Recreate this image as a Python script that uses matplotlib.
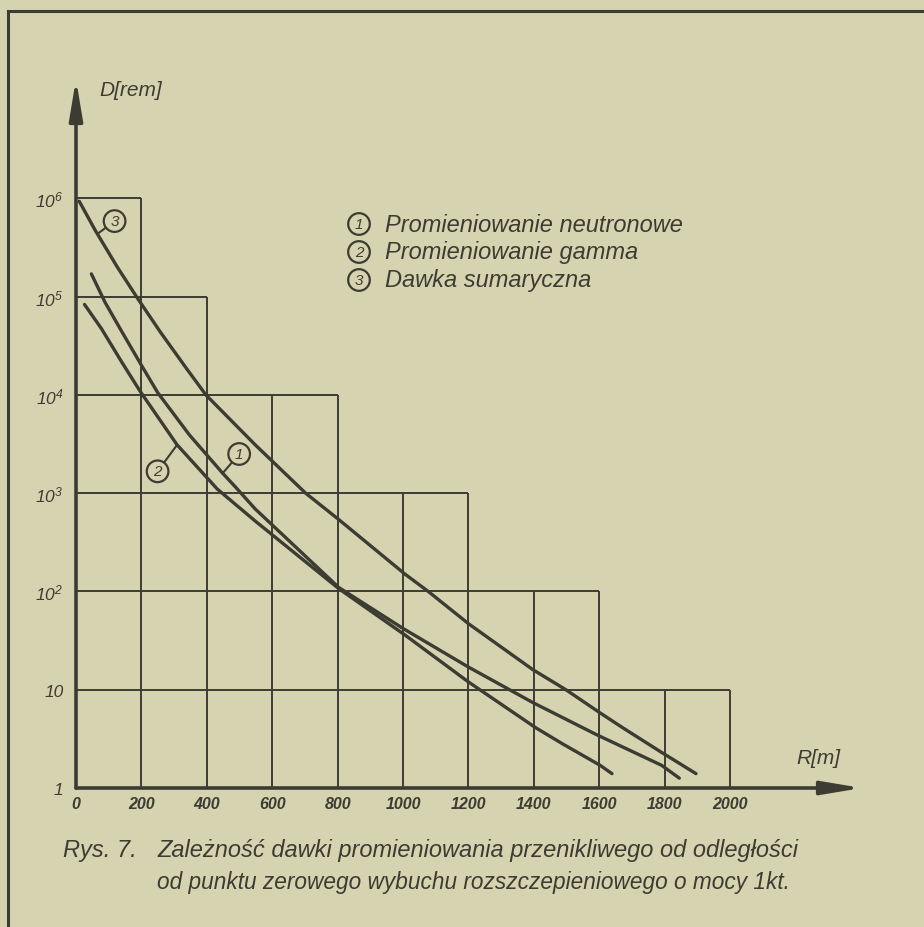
import matplotlib
matplotlib.use("Agg")
import matplotlib.pyplot as plt
from matplotlib.lines import Line2D

# stepped dose zones behind the curves (R [m], D [rem])
box_edges = [0, 200, 400, 600, 800, 1000, 1200, 1400, 1600, 1800, 2000]
box_heights = [1e6, 1e5, 1e4, 1e4, 1e3, 1e3, 1e2, 1e2, 10, 10]
decades = [10, 1e2, 1e3, 1e4, 1e5, 1e6]

# 1 - neutron radiation
r_neutron = [47, 89, 140, 200, 250, 347, 448, 488, 548, 803, 1000, 1200, 1397, 1591, 1791, 1845]
d_neutron = [1.7e5, 8.7e4, 4.4e4, 2.0e4, 1.05e4, 3.9e3, 1.6e3, 1.15e3, 6.9e2, 1.1e2, 42, 17, 7.4, 3.5, 1.7, 1.26]

# 2 - gamma radiation
r_gamma = [26, 78, 140, 195, 309, 432, 548, 803, 1006, 1200, 1406, 1489, 1603, 1639]
d_gamma = [8.3e4, 4.7e4, 2.15e4, 1.1e4, 3.1e3, 1.1e3, 5.2e2, 1.07e2, 36, 12, 4.1, 2.8, 1.7, 1.4]

# 3 - total dose
r_total = [10, 59, 126, 189, 259, 338, 397, 548, 702, 803, 1006, 1077, 1200, 1397, 1498, 1603, 1672, 1791, 1896]
d_total = [9.3e5, 4.7e5, 2.0e5, 9.5e4, 4.3e4, 1.85e4, 1.0e4, 3.1e3, 1.0e3, 5.4e2, 1.5e2, 1.0e2, 47, 16, 10, 5.8, 4.1, 2.3, 1.4]

x_ticks = [0, 200, 400, 600, 800, 1000, 1200, 1400, 1600, 1800, 2000]
x_tick_labels = [str(v) for v in x_ticks]
y_ticks = [1, 10, 1e2, 1e3, 1e4, 1e5, 1e6]
y_tick_labels = ["1", "10", r"$10^{2}$", r"$10^{3}$", r"$10^{4}$", r"$10^{5}$", r"$10^{6}$"]

legend_labels = ["Promieniowanie neutronowe", "Promieniowanie gamma", "Dawka sumaryczna"]
caption_1 = "Zależność dawki promieniowania przenikliwego od odległości"
caption_2 = "od punktu zerowego wybuchu rozszczepieniowego o mocy 1kt."

paper = "#d6d4b0"
ink = "#3c3c33"

plt.rcParams["font.family"] = ["Liberation Sans", "DejaVu Sans"]
plt.rcParams["font.style"] = "italic"
plt.rcParams["mathtext.fontset"] = "custom"
plt.rcParams["mathtext.rm"] = "Liberation Sans:italic"
plt.rcParams["mathtext.it"] = "Liberation Sans:italic"

W, H = 924, 928
fig = plt.figure(figsize=(W / 100, H / 100), dpi=100, facecolor=paper)

x0, x1 = 76, 862      # pixel span of the R axis (0 .. arrow tip)
y0, y1 = 789, 80      # pixel span of the D axis (1 .. arrow tip)
ax = fig.add_axes([x0 / W, 1 - y0 / H, (x1 - x0) / W, (y0 - y1) / H])
ax.set_facecolor("none")
ax.set_yscale("log")
xmax = (x1 - x0) / 0.327
ymax = 10 ** ((y0 - y1) / 98.3)
ax.set_xlim(0, xmax)
ax.set_ylim(1, ymax)
for s in ax.spines.values():
    s.set_visible(False)

# zone grid
tops = []
for i, e in enumerate(box_edges):
    left = box_heights[i - 1] if i > 0 else 1
    right = box_heights[i] if i < len(box_heights) else 1
    tops.append(max(left, right))
ax.vlines(box_edges[1:], 1, tops[1:], color=ink, lw=1.4)
ends = [max(box_edges[i + 1] for i, h in enumerate(box_heights) if h >= lev) for lev in decades]
ax.hlines(decades, 0, ends, color=ink, lw=1.4)

# curves
for r, d in [(r_neutron, d_neutron), (r_gamma, d_gamma), (r_total, d_total)]:
    ax.plot(r, d, color=ink, lw=2.4, solid_capstyle="round", solid_joinstyle="round")

# axes with arrows
arrow = dict(arrowstyle="-|>,head_length=1.2,head_width=0.2", mutation_scale=20,
             lw=2.6, color=ink, shrinkA=0, shrinkB=0)
ax.annotate("", xy=(xmax, 1), xytext=(0, 1), annotation_clip=False, arrowprops=arrow)
ax.annotate("", xy=(0, ymax), xytext=(0, 1), annotation_clip=False, arrowprops=arrow)

ax.set_xticks(x_ticks)
ax.set_xticklabels(x_tick_labels, fontsize=11.5, fontweight="bold", color=ink)
ax.set_yticks(y_ticks)
ax.set_yticklabels(y_tick_labels, fontsize=12.5, color=ink)
ax.minorticks_off()
ax.tick_params(length=0, pad=6)
ax.tick_params(axis="y", pad=9)

ax.text(0.03, 0.985, "D[rem]", transform=ax.transAxes, fontsize=15, color=ink, va="center")
ax.text(0.945, 0.03, "R[m]", transform=ax.transAxes, fontsize=15, color=ink, ha="center", va="bottom")

# curve labels
circ = dict(boxstyle="circle,pad=0.25", fc=paper, ec=ink, lw=1.6)
lead = dict(arrowstyle="-", color=ink, lw=1.5, shrinkA=0, shrinkB=0)
for num, xy, off in [("3", (67, 10 ** 5.64), (12, 9)),
                     ("1", (448, 10 ** 3.2), (12, 14)),
                     ("2", (309, 10 ** 3.49), (-14, -19))]:
    ax.annotate(num, xy=xy, xytext=off, textcoords="offset points", ha="center", va="center",
                fontsize=11, color=ink, bbox=circ, arrowprops=lead)

# legend
for i, lab in enumerate(legend_labels):
    yy = 1 - (225 + 28 * i) / H
    fig.text(359 / W, yy, str(i + 1), ha="center", va="center", fontsize=11, color=ink, bbox=circ)
    fig.text(385 / W, yy, lab, ha="left", va="center", fontsize=17, color=ink)

# caption
fig.text(63 / W, 1 - 851 / H, "Rys. 7.", fontsize=17, color=ink, va="center")
fig.text(157 / W, 1 - 851 / H, caption_1, fontsize=17, color=ink, va="center")
fig.text(157 / W, 1 - 883 / H, caption_2, fontsize=16.3, color=ink, va="center")

# page frame
fig.add_artist(Line2D([8 / W, 1], [1 - 12 / H, 1 - 12 / H], color=ink, lw=2.2))
fig.add_artist(Line2D([8 / W, 8 / W], [0, 1 - 12 / H], color=ink, lw=2.2))

fig.savefig("out.png", dpi=100, facecolor=paper)
